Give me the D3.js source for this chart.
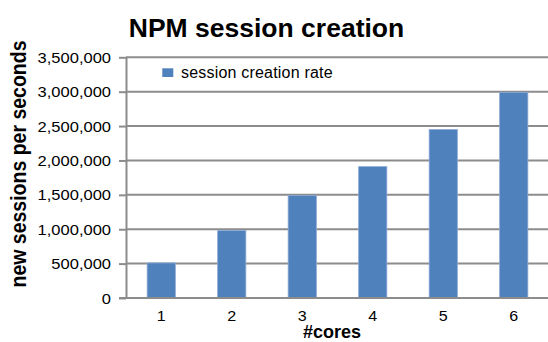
<!DOCTYPE html>
<html>
<head>
<meta charset="utf-8">
<script src="https://cdn.jsdelivr.net/npm/d3@7"></script>
<style>
  html, body { margin: 0; padding: 0; background: #fff; }
  svg { display: block; font-family: "Liberation Sans", Arial, Helvetica, sans-serif; }
</style>
</head>
<body>
<div id="chart"></div>
<script>
const categories = ["1", "2", "3", "4", "5", "6"];
const sessionRate = [510000, 980000, 1490000, 1910000, 2450000, 2990000];
const yTicks = [0, 500000, 1000000, 1500000, 2000000, 2500000, 3000000, 3500000];
const seriesName = "session creation rate";
const titleText = "NPM session creation";
const xTitle = "#cores";
const yTitle = "new sessions per seconds";

const W = 548, H = 342;
const svg = d3.select("#chart").append("svg").attr("width", W).attr("height", H);
svg.append("rect").attr("width", W).attr("height", H).attr("fill", "#fff");

const mLeft = 126, mRight = 549, mTop = 57.3, mBottom = 298;
const gridColor = "#8c8c8c";
const barColor = "#4f81bd";

const x = d3.scaleBand().domain(categories).range([mLeft, mRight])
  .paddingInner(0.6).paddingOuter(0.3);
const y = d3.scaleLinear().domain([0, 3500000]).range([mBottom, mTop]);

// gridlines
svg.append("g").selectAll("line").data(yTicks.filter(d => d > 0)).join("line")
  .attr("x1", mLeft).attr("x2", W)
  .attr("y1", d => y(d)).attr("y2", d => y(d))
  .attr("stroke", gridColor).attr("stroke-width", 2);

// bars
svg.append("g").selectAll("rect").data(categories).join("rect")
  .attr("x", d => x(d))
  .attr("width", x.bandwidth())
  .attr("y", (d, i) => y(sessionRate[i]))
  .attr("height", (d, i) => y(0) - y(sessionRate[i]))
  .attr("fill", barColor)
  .attr("stroke", "#8aaad6").attr("stroke-width", 0.8);

// y axis
const yAxis = d3.axisLeft(y).tickValues(yTicks).tickSize(7).tickSizeOuter(0)
  .tickFormat(d3.format(","));
const gy = svg.append("g").attr("transform", `translate(${mLeft},0)`).call(yAxis);
gy.select(".domain").attr("stroke", gridColor).attr("stroke-width", 2);
gy.selectAll(".tick line").attr("stroke", gridColor).attr("stroke-width", 2);
gy.selectAll(".tick text")
  .attr("x", -15 / 1.18)
  .attr("dy", "0.36em")
  .attr("transform", "scale(1.18,1)")
  .attr("fill", "#000")
  .style("font-size", "14px")
  .style("font-family", "'Liberation Sans', Arial, sans-serif");

// x axis
const xAxis = d3.axisBottom(x).tickSize(0).tickSizeOuter(0);
const gx = svg.append("g").attr("transform", `translate(0,${mBottom})`).call(xAxis);
gx.select(".domain").remove();
gx.append("line").attr("x1", mLeft - 7).attr("x2", W).attr("y1", 0).attr("y2", 0)
  .attr("stroke", gridColor).attr("stroke-width", 2);
gx.selectAll(".tick text")
  .attr("y", 23.5).attr("dy", null)
  .attr("transform", "scale(1.15,1)")
  .attr("fill", "#000")
  .style("font-size", "14px")
  .style("font-family", "'Liberation Sans', Arial, sans-serif");

// title
svg.append("text").attr("x", 266.5).attr("y", 37)
  .attr("text-anchor", "middle")
  .style("font-size", "26.5px").style("font-weight", "bold")
  .text(titleText);

// x title
svg.append("text").attr("x", 332).attr("y", 338)
  .attr("text-anchor", "middle")
  .style("font-size", "18px").style("font-weight", "bold")
  .text(xTitle);

// y title
svg.append("text")
  .attr("transform", "translate(26,164) rotate(-90) scale(1,1.15)")
  .attr("text-anchor", "middle")
  .style("font-size", "19.5px").style("font-weight", "bold")
  .text(yTitle);

// legend
const lg = svg.append("g");
lg.append("rect").attr("x", 162.3).attr("y", 68.3).attr("width", 11).attr("height", 8.7)
  .attr("fill", barColor);
lg.append("text").attr("x", 181).attr("y", 77.5)
  .style("font-size", "16px").style("letter-spacing", "0.2px")
  .text(seriesName);
</script>
</body>
</html>
